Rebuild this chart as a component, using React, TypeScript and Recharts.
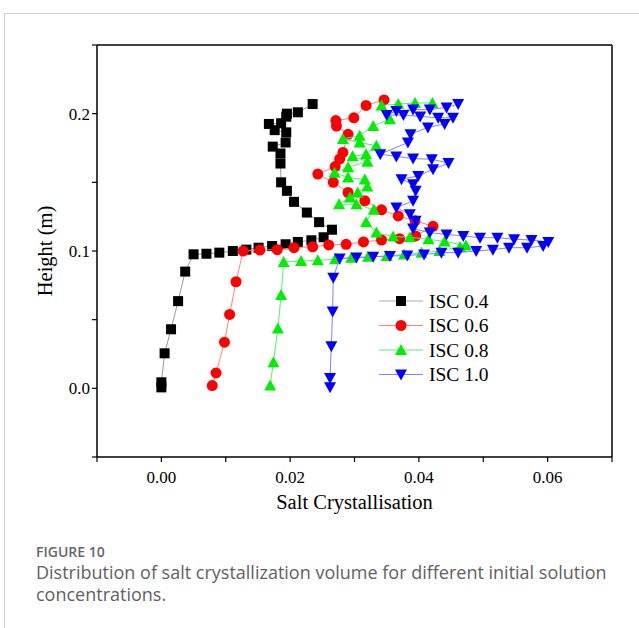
import { ScatterChart, Scatter, XAxis, YAxis, ReferenceLine, Label } from 'recharts';

// ISC 0.4
const isc04X = [0.0, 0.0, 0.0005, 0.0015, 0.0026, 0.0037, 0.005, 0.007, 0.009, 0.0111, 0.0132, 0.0151, 0.0172, 0.0193, 0.0212, 0.0233, 0.0252, 0.0265, 0.0245, 0.0226, 0.0206, 0.0195, 0.0186, 0.0185, 0.0185, 0.0173, 0.0193, 0.0194, 0.0176, 0.0167, 0.0186, 0.0194, 0.0195, 0.0212, 0.0235];
const isc04Y = [0.0007, 0.0044, 0.0255, 0.043, 0.0635, 0.085, 0.0976, 0.098, 0.0988, 0.1, 0.101, 0.1024, 0.1036, 0.1049, 0.1066, 0.1078, 0.11, 0.1155, 0.121, 0.128, 0.1358, 0.1438, 0.15, 0.1637, 0.171, 0.176, 0.179, 0.1864, 0.188, 0.1925, 0.193, 0.1978, 0.2, 0.201, 0.207];

// ISC 0.6
const isc06X = [0.0079, 0.0085, 0.0098, 0.0106, 0.0116, 0.0127, 0.0153, 0.018, 0.0206, 0.0235, 0.026, 0.0287, 0.0314, 0.0342, 0.037, 0.0395, 0.0422, 0.0394, 0.0368, 0.0342, 0.0316, 0.029, 0.0267, 0.0243, 0.027, 0.0277, 0.0282, 0.029, 0.0272, 0.0271, 0.0299, 0.0318, 0.0346];
const isc06Y = [0.002, 0.0112, 0.0336, 0.0538, 0.0776, 0.1, 0.1007, 0.101, 0.1024, 0.1031, 0.1044, 0.1049, 0.1066, 0.108, 0.109, 0.111, 0.118, 0.122, 0.1255, 0.13, 0.1365, 0.1426, 0.15, 0.156, 0.1615, 0.167, 0.1718, 0.185, 0.191, 0.195, 0.197, 0.206, 0.21];

// ISC 0.8
const isc08X = [0.0169, 0.0174, 0.0181, 0.0186, 0.019, 0.0217, 0.0243, 0.027, 0.0295, 0.0321, 0.035, 0.0377, 0.0404, 0.0432, 0.0464, 0.0473, 0.044, 0.0415, 0.0386, 0.036, 0.0334, 0.0318, 0.033, 0.0303, 0.0276, 0.0293, 0.0305, 0.032, 0.0316, 0.029, 0.0269, 0.029, 0.032, 0.0297, 0.0318, 0.0334, 0.0308, 0.0282, 0.0308, 0.0329, 0.0355, 0.0342, 0.0368, 0.0394, 0.0421];
const isc08Y = [0.002, 0.019, 0.0436, 0.068, 0.092, 0.0927, 0.0932, 0.094, 0.095, 0.0958, 0.0963, 0.0975, 0.0988, 0.1, 0.103, 0.104, 0.107, 0.1085, 0.11, 0.1105, 0.1134, 0.121, 0.13, 0.134, 0.134, 0.139, 0.1426, 0.147, 0.152, 0.1535, 0.157, 0.161, 0.165, 0.169, 0.1705, 0.1766, 0.179, 0.1815, 0.184, 0.191, 0.196, 0.206, 0.207, 0.2078, 0.2078];

// ISC 1.0
const isc10X = [0.0262, 0.0262, 0.0264, 0.0266, 0.0267, 0.0277, 0.0303, 0.0329, 0.0355, 0.0382, 0.0408, 0.0435, 0.0461, 0.0489, 0.0515, 0.054, 0.0568, 0.0593, 0.0601, 0.0575, 0.0548, 0.0522, 0.0495, 0.0469, 0.0443, 0.0417, 0.0391, 0.0395, 0.0386, 0.0365, 0.0391, 0.0395, 0.0391, 0.0373, 0.0399, 0.0422, 0.0446, 0.042, 0.0391, 0.0365, 0.034, 0.0383, 0.0387, 0.0414, 0.044, 0.0453, 0.043, 0.0402, 0.0376, 0.035, 0.0365, 0.0391, 0.0417, 0.0443, 0.0461];
const isc10Y = [0.0007, 0.0075, 0.0307, 0.056, 0.0805, 0.0946, 0.0952, 0.0958, 0.0963, 0.0968, 0.0975, 0.0988, 0.0988, 0.1, 0.101, 0.1024, 0.1024, 0.1036, 0.1066, 0.108, 0.1085, 0.1097, 0.1097, 0.111, 0.112, 0.1134, 0.1163, 0.122, 0.1267, 0.1316, 0.1365, 0.1438, 0.1486, 0.1523, 0.1547, 0.1596, 0.164, 0.1668, 0.1673, 0.1689, 0.1705, 0.179, 0.185, 0.19, 0.1925, 0.197, 0.197, 0.198, 0.199, 0.199, 0.202, 0.203, 0.203, 0.2045, 0.207];

const xTicks = [-0.01, 0, 0.01, 0.02, 0.03, 0.04, 0.05, 0.06, 0.07];
const yTicks = [-0.05, 0, 0.05, 0.1, 0.15, 0.2, 0.25];
const xLabeled = [0, 0.02, 0.04, 0.06];
const yLabeled = [0, 0.1, 0.2];

const toPoints = (xs: number[], ys: number[]) => xs.map((x, i) => ({ x, y: ys[i] }));

const SERIF = '"Liberation Serif", "Times New Roman", serif';

const Square = (p: any) => <rect x={p.cx - 5} y={p.cy - 5} width={10} height={10} fill="#000" />;
const Dot = (p: any) => <circle cx={p.cx} cy={p.cy} r={5.5} fill="#ff0000" />;
const TriUp = (p: any) => (
  <path d={`M${p.cx},${p.cy - 6} L${p.cx + 6},${p.cy + 5} L${p.cx - 6},${p.cy + 5} Z`} fill="#00ee00" />
);
const TriDown = (p: any) => (
  <path d={`M${p.cx},${p.cy + 6} L${p.cx + 6},${p.cy - 5} L${p.cx - 6},${p.cy - 5} Z`} fill="#0000ff" />
);

const legendItems = [
  { name: 'ISC 0.4', line: '#aaaaaa', shape: Square },
  { name: 'ISC 0.6', line: '#ff8080', shape: Dot },
  { name: 'ISC 0.8', line: '#55ee77', shape: TriUp },
  { name: 'ISC 1.0', line: '#8080ff', shape: TriDown },
];

// legend drawn on top of the plot, lower right area
const LegendBox = () => (
  <svg width={140} height={100} style={{ position: 'absolute', left: 376, top: 288 }}>
    {legendItems.map((it, i) => {
      const cy = 13 + i * 24.5;
      const S = it.shape;
      return (
        <g key={it.name}>
          <line x1={3} x2={47} y1={cy} y2={cy} stroke={it.line} strokeWidth={1} />
          <S cx={25} cy={cy} />
          <text x={53} y={cy + 6.5} fontFamily={SERIF} fontSize={19.5} fill="#000">{it.name}</text>
        </g>
      );
    })}
  </svg>
);

export default function App() {
  return (
    <div style={{ position: 'absolute', left: 0, top: 0, width: 639, height: 628, background: '#fff', overflow: 'hidden' }}>
      <div style={{ position: 'absolute', left: 4, top: 13, width: 700, height: 700, border: '1px solid #cfcfcf' }} />
      <div style={{ position: 'absolute', left: 0, top: 0 }}>
        <ScatterChart width={639} height={530} margin={{ top: 45, right: 27, left: 37, bottom: 13 }}>
          <XAxis
            type="number"
            dataKey="x"
            domain={[-0.01, 0.07]}
            ticks={xTicks}
            interval={0}
            tickFormatter={(v: number) => (xLabeled.some(t => Math.abs(t - v) < 1e-9) ? v.toFixed(2) : '')}
            tick={{ fontFamily: SERIF, fontSize: 17, fill: '#000' }}
            tickSize={5}
            tickMargin={9}
            axisLine={{ stroke: '#000', strokeWidth: 1.5 }}
            tickLine={{ stroke: '#000', strokeWidth: 1.2 }}
            height={60}
          >
            <Label value="Salt Crystallisation" position="insideBottom" offset={8} style={{ fontFamily: SERIF, fontSize: 20.5, fill: '#000' }} />
          </XAxis>
          <YAxis
            type="number"
            dataKey="y"
            domain={[-0.05, 0.25]}
            ticks={yTicks}
            interval={0}
            tickFormatter={(v: number) => (yLabeled.some(t => Math.abs(t - v) < 1e-9) ? v.toFixed(1) : '')}
            tick={{ fontFamily: SERIF, fontSize: 17, fill: '#000' }}
            tickSize={5}
            axisLine={{ stroke: '#000', strokeWidth: 1.5 }}
            tickLine={{ stroke: '#000', strokeWidth: 1.2 }}
            width={60}
          >
            <Label value="Height (m)" angle={-90} position="insideLeft" offset={8} style={{ fontFamily: SERIF, fontSize: 20.5, fill: '#000', textAnchor: 'middle' }} />
          </YAxis>
          <ReferenceLine y={0.25} stroke="#000" strokeWidth={1.5} />
          <ReferenceLine x={0.07} stroke="#000" strokeWidth={1.5} />
          <Scatter name="ISC 0.4" data={toPoints(isc04X, isc04Y)} line={{ stroke: '#999999', strokeWidth: 1 }} shape={Square} isAnimationActive={false} />
          <Scatter name="ISC 0.6" data={toPoints(isc06X, isc06Y)} line={{ stroke: '#ff8080', strokeWidth: 1 }} shape={Dot} isAnimationActive={false} />
          <Scatter name="ISC 0.8" data={toPoints(isc08X, isc08Y)} line={{ stroke: '#55ee77', strokeWidth: 1 }} shape={TriUp} isAnimationActive={false} />
          <Scatter name="ISC 1.0" data={toPoints(isc10X, isc10Y)} line={{ stroke: '#8080ff', strokeWidth: 1 }} shape={TriDown} isAnimationActive={false} />
        </ScatterChart>
      </div>
      <LegendBox />
      <div style={{ position: 'absolute', left: 36, top: 543, fontFamily: '"Open Sans", "Noto Sans", sans-serif', color: '#666' }}>
        <div style={{ fontSize: 14, fontWeight: 600, lineHeight: '18px' }}>FIGURE 10</div>
        <div style={{ fontSize: 18, lineHeight: '22px', color: '#5f5f5f', whiteSpace: 'nowrap' }}>
          Distribution of salt crystallization volume for different initial solution
          <br />
          concentrations.
        </div>
      </div>
    </div>
  );
}
